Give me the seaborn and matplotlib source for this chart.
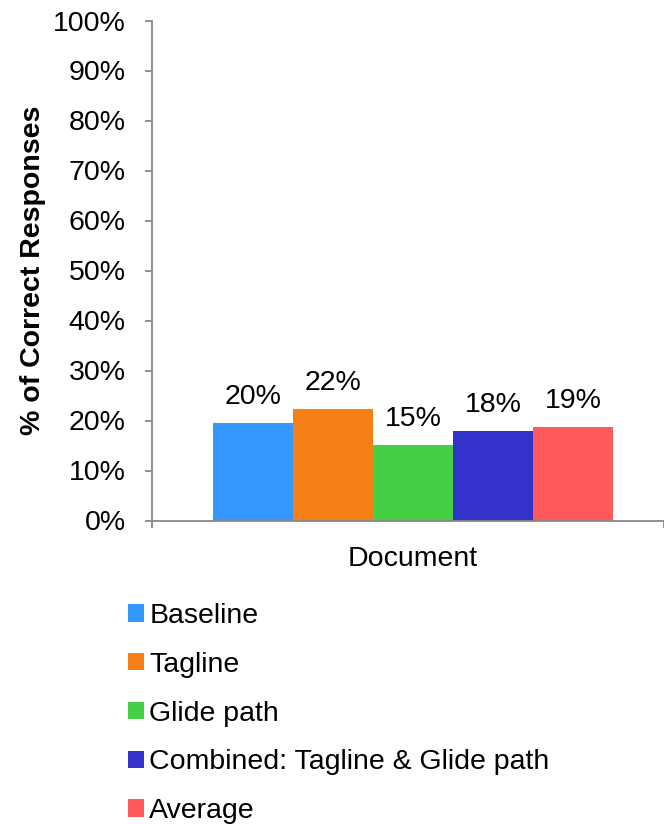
import matplotlib
matplotlib.use("Agg")
import matplotlib.pyplot as plt
import seaborn as sns
import pandas as pd
from matplotlib.patches import Patch
from matplotlib.ticker import FuncFormatter

categories = ["Document"]
series = ["Baseline", "Tagline", "Glide path", "Combined: Tagline & Glide path", "Average"]
values = [19.5, 22.3, 15.1, 17.9, 18.7]
labels = ["20%", "22%", "15%", "18%", "19%"]
colors = ["#3399FF", "#F77F17", "#44D044", "#3333CC", "#FF5A5A"]
yticks = [0, 10, 20, 30, 40, 50, 60, 70, 80, 90, 100]

sns.set_theme(style="white")
plt.rcParams["font.family"] = ["Liberation Sans", "DejaVu Sans"]
FS = 20.5

df = pd.DataFrame({"cat": categories * len(series), "series": series, "value": values})

fig = plt.figure(figsize=(6.64, 8.24), dpi=100)
ax = fig.add_axes([152 / 664, 1 - 520.5 / 824, 1 - 152 / 664, (520.5 - 20.5) / 824])
sns.barplot(data=df, x="cat", y="value", hue="series", hue_order=series,
            palette=colors, saturation=1, width=0.8, ax=ax, legend=False,
            edgecolor="none", linewidth=0)

for cont, lab in zip(ax.containers, labels):
    ax.bar_label(cont, labels=[lab], padding=9, fontsize=FS, color="black")

ax.set_ylim(0, 100)
ax.set_xlim(-0.521, 0.501)
ax.set_yticks(yticks)
ax.yaxis.set_major_formatter(FuncFormatter(lambda v, p: f"{int(v)}%"))
ax.tick_params(axis="y", which="major", direction="out", length=5, width=1.3,
               color="#888888", labelsize=FS, labelcolor="black", pad=14, left=True)
ax.tick_params(axis="x", which="major", length=0, labelsize=FS, labelcolor="black", pad=18.5)
ax.set_xticks(ax.get_xlim(), minor=True)
ax.tick_params(axis="x", which="minor", direction="out", length=5, width=1.3,
               color="#888888", bottom=True)
for s in ["top", "right"]:
    ax.spines[s].set_visible(False)
for s in ["left", "bottom"]:
    ax.spines[s].set_color("#888888")
    ax.spines[s].set_linewidth(1.3)
ax.set_xlabel("")
ax.set_ylabel("% of Correct Responses", fontsize=FS, fontweight="bold", color="black", labelpad=5)
ax.grid(False)

handles = [Patch(facecolor=c, edgecolor="none") for c in colors]
fig.legend(handles, series, loc="upper left", bbox_to_anchor=(128 / 664, 1 - 603 / 824),
           frameon=False, fontsize=FS, handlelength=0.55, handleheight=0.55,
           handletextpad=0.2, labelspacing=0.8, borderpad=0, borderaxespad=0,
           labelcolor="black")

fig.savefig("out.png", dpi=100)
